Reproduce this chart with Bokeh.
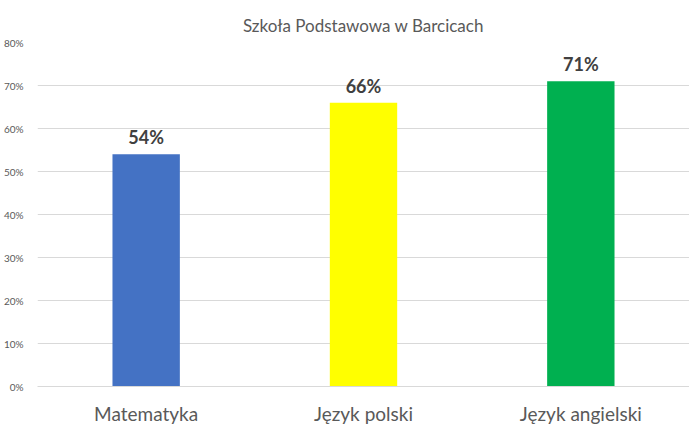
from bokeh.plotting import figure
from bokeh.models import ColumnDataSource, NumeralTickFormatter, Range1d, FixedTicker
from bokeh.core.properties import value
from bokeh.embed import file_html
from bokeh.resources import INLINE

title = "Szkoła Podstawowa w Barcicach"
categories = ["Matematyka", "Język polski", "Język angielski"]
values = [0.54, 0.66, 0.71]
colors = ["#4472C4", "#FFFF00", "#00B050"]
y_ticks = [0, 0.1, 0.2, 0.3, 0.4, 0.5, 0.6, 0.7, 0.8]

FONT = "Lato"

src = ColumnDataSource(dict(
    cat=categories,
    val=values,
    col=colors,
    lab=[f"{round(v * 100)}%" for v in values],
))

p = figure(x_range=categories, y_range=Range1d(0, 0.8),
           frame_width=652, frame_height=344, output_backend="svg", toolbar_location=None,
           min_border_left=30, min_border_right=0, min_border_top=42, min_border_bottom=33,
           title=title)
p.outline_line_color = None
p.title.align = "center"
p.title.vertical_align = "top"
p.title.text_font = FONT
p.title.text_font_size = "17px"
p.title.text_font_style = "normal"
p.title.text_color = "#595959"

p.vbar(x="cat", top="val", width=0.31, fill_color="col", line_color=None, source=src)
p.text(x="cat", y="val", text="lab", source=src, text_align="center", text_baseline="bottom",
       y_offset=-6, text_font=value(FONT), text_font_style="bold", text_font_size="18px",
       text_color="#404040")

p.yaxis.ticker = FixedTicker(ticks=y_ticks)
p.yaxis.formatter = NumeralTickFormatter(format="0%")
p.yaxis.axis_line_color = None
p.yaxis.major_tick_line_color = None
p.yaxis.minor_tick_line_color = None
p.yaxis.major_label_standoff = 8
p.yaxis.major_label_text_font = FONT
p.yaxis.major_label_text_font_size = "10px"
p.yaxis.major_label_text_color = "#595959"

p.xaxis.axis_line_color = "#D9D9D9"
p.xaxis.major_tick_line_color = None
p.xaxis.minor_tick_line_color = None
p.xaxis.major_label_standoff = 9
p.xaxis.major_label_text_font = FONT
p.xaxis.major_label_text_font_size = "19px"
p.xaxis.major_label_text_color = "#595959"

p.xgrid.grid_line_color = None
p.ygrid.grid_line_color = "#D9D9D9"

open("out.html", "w").write(file_html(p, INLINE))
